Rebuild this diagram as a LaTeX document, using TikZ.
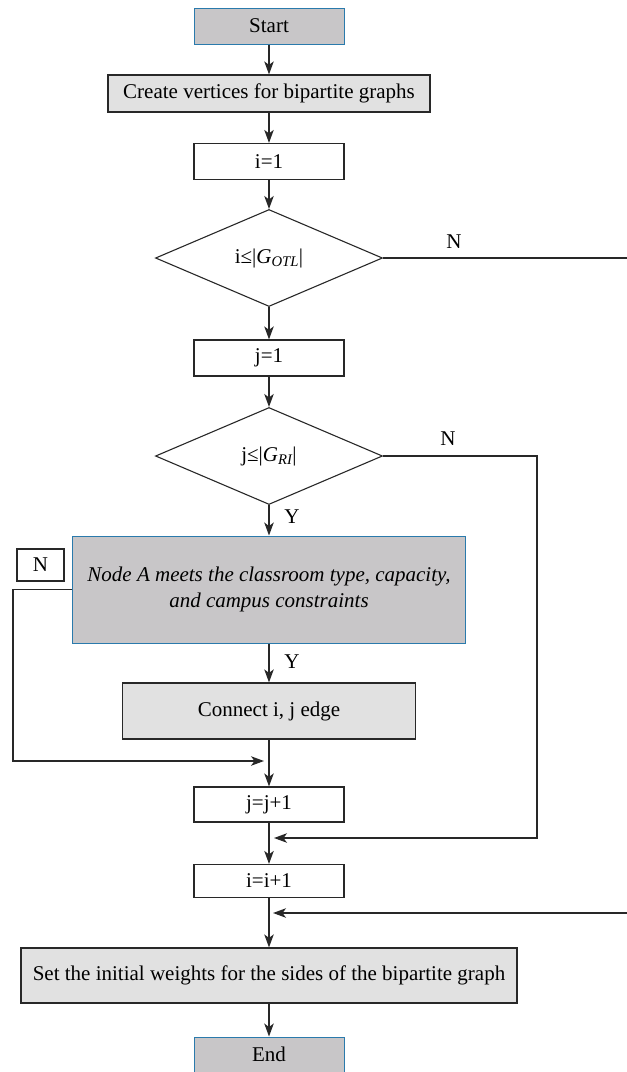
\documentclass[tikz,border=0pt]{standalone}
\usepackage{amsmath}
\usepackage{fontspec}
\setmainfont{Liberation Serif}
\usetikzlibrary{arrows.meta,shapes.geometric}

\definecolor{termgray}{RGB}{200,198,200}
\definecolor{procgray}{RGB}{225,225,225}
\definecolor{rimblue}{RGB}{42,122,172}
\definecolor{inkgray}{RGB}{40,40,40}

\newcommand{\lowsub}[1]{$_{\textit{#1}}$}

\begin{document}
\begin{tikzpicture}[x=1pt,y=-1pt,line cap=butt,line join=miter,
    font=\fontsize{21}{26}\selectfont,
    >={Stealth[length=13pt,width=9.5pt,inset=3.5pt]},
    flow/.style={draw=inkgray,line width=1.2pt},
    terminal/.style={draw=rimblue,fill=termgray,line width=1pt,inner sep=0pt},
    process/.style={draw=inkgray,fill=procgray,line width=1.2pt,inner sep=0pt},
    stepbox/.style={draw=inkgray,fill=white,line width=1.2pt,inner sep=0pt},
    decision/.style={diamond,draw=inkgray,fill=white,line width=1.1pt,inner sep=0pt,
      minimum width=227pt,minimum height=97pt},
    answer/.style={inner sep=0pt}]
    \useasboundingbox (0,0) rectangle (627,1072);

    % The main column of steps.
    \node[terminal,minimum width=150pt,minimum height=36pt] (start) at (269,26) {Start};
    \node[process,minimum width=322pt,minimum height=37pt] (create) at (269,93.5)
      {Create vertices for bipartite graphs};
    \node[stepbox,minimum width=150pt,minimum height=36pt] (iset) at (269,161.5) {i=1};
    \node[decision] (itest) at (269,258) {i≤|\textit{G}\lowsub{OTL}|};
    \node[stepbox,minimum width=150pt,minimum height=36pt] (jset) at (269,358) {j=1};
    \node[decision] (jtest) at (269,456) {j≤|\textit{G}\lowsub{RI}|};
    \node[terminal,minimum width=393pt,minimum height=107pt,align=center,
      font=\fontsize{21}{26}\selectfont\itshape] (meets) at (269,589.5)
      {Node A meets the classroom type, capacity,\\and campus constraints};
    \node[process,minimum width=293pt,minimum height=56pt] (connect) at (269,711)
      {Connect i, j edge};
    \node[stepbox,minimum width=150pt,minimum height=35pt] (jinc) at (269,804.5) {j=j+1};
    \node[stepbox,minimum width=150pt,minimum height=33pt] (iinc) at (269,881) {i=i+1};
    \node[process,minimum width=496pt,minimum height=55pt] (weights) at (269,975.5)
      {Set the initial weights for the sides of the bipartite graph};
    \node[terminal,minimum width=150pt,minimum height=35pt] (end) at (269,1054.5) {End};

    % The boxed N beside the constraint test.
    \node[stepbox,minimum width=47pt,minimum height=32pt] (nobox) at (40.5,565) {N};

    % Where the loops come back into the column.
    \coordinate (backA) at (264,761);
    \coordinate (backJ) at (274,838);
    \coordinate (backI) at (273,913);

    % The straight run down the column.
    \draw[flow,->] (start) -- (create);
    \draw[flow,->] (create) -- (iset);
    \draw[flow,->] (iset) -- (itest);
    \draw[flow,->] (itest) -- (jset);
    \draw[flow,->] (jset) -- (jtest);
    \draw[flow,->] (jtest) -- (meets);
    \draw[flow,->] (meets) -- (connect);
    \draw[flow,->] (connect) -- (jinc);
    \draw[flow,->] (jinc) -- (iinc);
    \draw[flow,->] (iinc) -- (weights);
    \draw[flow,->] (weights) -- (end);

    % The three ways back.
    \draw[flow,->] (meets.west) -- (13,589.5) -- (13,761) -- (backA);
    \draw[flow,->] (jtest.east) -- (537,456) -- (537,838) -- (backJ);
    \draw[flow,->] (itest.east) -- (632,258) -- (632,913) -- (backI);

    % The Y and N marks on the branches.
    \node[answer] (yj) at (292,517) {Y};
    \node[answer] (ym) at (292,662) {Y};
    \node[answer] (ni) at (454,242) {N};
    \node[answer] (nj) at (448,439) {N};
  \end{tikzpicture}
\end{document}
